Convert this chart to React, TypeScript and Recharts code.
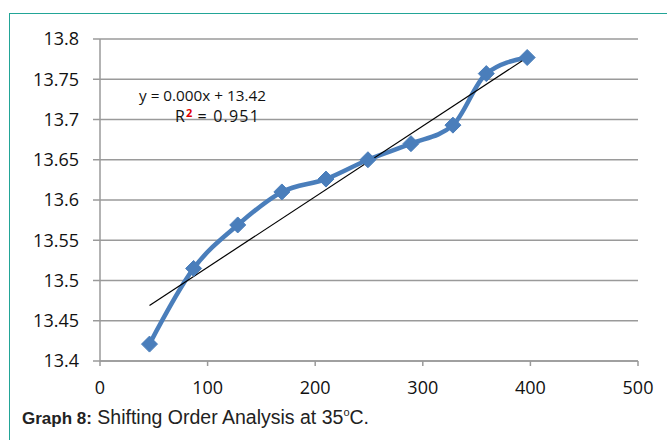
import { LineChart, Line, XAxis, YAxis, CartesianGrid } from "recharts"

const xValues = [46, 87, 128, 169, 210, 249, 289, 328, 359, 397]
const yValues = [13.421, 13.515, 13.569, 13.61, 13.626, 13.65, 13.67, 13.693, 13.757, 13.777]
const trendX = [46, 397]
const trendY = [13.469, 13.777]
const xTicks = [0, 100, 200, 300, 400, 500]
const yTicks = [13.4, 13.45, 13.5, 13.55, 13.6, 13.65, 13.7, 13.75, 13.8]

const series = xValues.map((x, i) => ({ x, y: yValues[i] }))
const trend = trendX.map((x, i) => ({ x, y: trendY[i] }))

const Diamond = (props: any) => {
  const { cx, cy, index } = props
  if (cx == null || cy == null) return null
  const r = 8
  return (
    <polygon
      key={index}
      points={`${cx},${cy - r} ${cx + r},${cy} ${cx},${cy + r} ${cx - r},${cy}`}
      fill="#4a7ebb"
      stroke="#4a7ebb"
      strokeWidth={1}
      strokeLinejoin="round"
    />
  )
}

const tickStyle = { fill: "#111", fontSize: 18, fontFamily: "Open Sans" }

export default function App() {
  return (
    <div style={{ position: "absolute", left: 0, top: 0, width: 667, height: 440, background: "#fff", overflow: "hidden" }}>
      <div
        style={{
          position: "absolute",
          left: 9,
          top: 13,
          width: 700,
          height: 480,
          border: "1.5px solid #22a597",
          boxSizing: "border-box",
        }}
      />
      <div style={{ position: "absolute", left: 0, top: 0 }}>
        <LineChart width={667} height={400} margin={{ top: 39, right: 29, left: 0, bottom: 9 }}>
          <CartesianGrid vertical={false} stroke="#9a9a9a" strokeWidth={1.5} />
          <XAxis
            type="number"
            dataKey="x"
            domain={[0, 500]}
            ticks={xTicks}
            height={30}
            tickSize={5}
            tickMargin={15}
            tick={tickStyle}
            stroke="#9a9a9a"
            strokeWidth={1.5}
            allowDataOverflow
          />
          <YAxis
            type="number"
            dataKey="y"
            domain={[13.4, 13.8]}
            ticks={yTicks}
            width={100}
            tickSize={7}
            tickMargin={14}
            tick={tickStyle}
            stroke="#9a9a9a"
            strokeWidth={1.5}
            allowDataOverflow
          />
          <Line
            data={series}
            dataKey="y"
            type="monotone"
            stroke="#4a7ebb"
            strokeWidth={4.5}
            dot={Diamond}
            activeDot={false}
            isAnimationActive={false}
          />
          <Line
            data={trend}
            dataKey="y"
            type="linear"
            stroke="#000"
            strokeWidth={1.2}
            dot={false}
            activeDot={false}
            isAnimationActive={false}
          />
        </LineChart>
      </div>
      <div
        style={{
          position: "absolute",
          left: 139,
          top: 86,
          fontFamily: "Open Sans",
          fontSize: 15.3,
          lineHeight: "18px",
          color: "#111",
          whiteSpace: "nowrap",
        }}
      >
        y = 0.000x + 13.42
      </div>
      <div
        style={{
          position: "absolute",
          left: 175,
          top: 104,
          fontFamily: "Open Sans",
          fontSize: 16,
          lineHeight: "18px",
          color: "#111",
          whiteSpace: "nowrap",
        }}
      >
        R
        <span style={{ color: "#e00000", fontWeight: 700, fontSize: 11, verticalAlign: "5px", marginLeft: 1 }}>2</span>
        <span style={{ letterSpacing: 1.2 }}> = 0.951</span>
      </div>
      <div
        style={{
          position: "absolute",
          left: 22,
          top: 401,
          fontFamily: "Liberation Sans, Arial",
          fontSize: 19.5,
          lineHeight: "22px",
          color: "#222",
          whiteSpace: "nowrap",
        }}
      >
        <b style={{ fontSize: 17 }}>Graph 8:</b> Shifting Order Analysis at 35<sup style={{ fontSize: 11 }}>o</sup>C.
      </div>
    </div>
  )
}
